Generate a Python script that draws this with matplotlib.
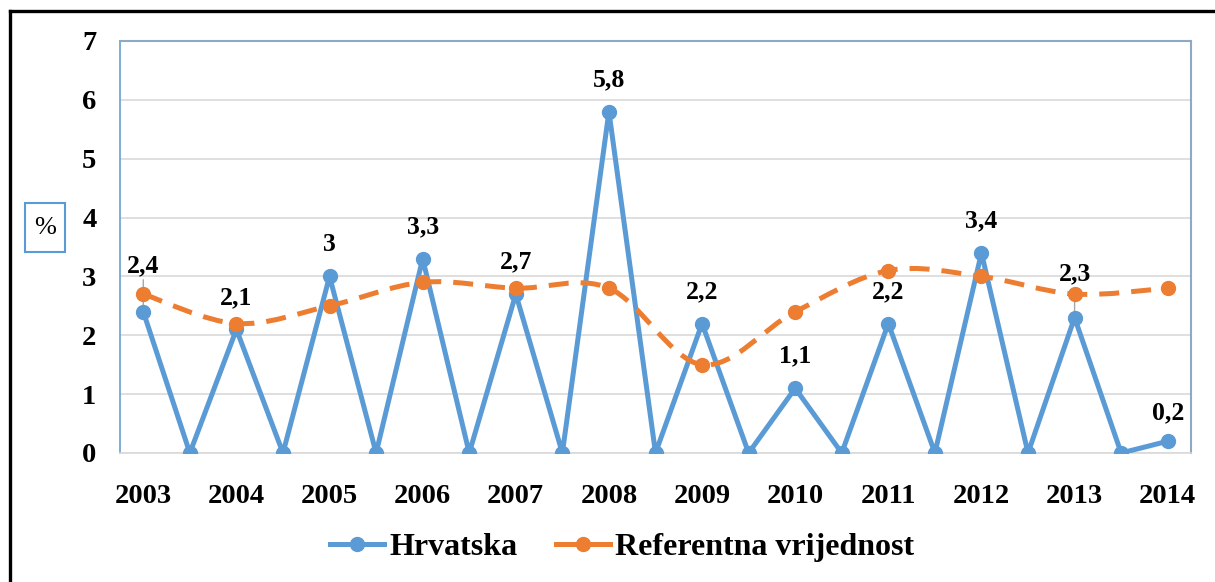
import matplotlib
matplotlib.use("Agg")
import matplotlib.pyplot as plt
from matplotlib.path import Path
from matplotlib.patches import PathPatch, Rectangle
from matplotlib.lines import Line2D

years = ["2003", "2004", "2005", "2006", "2007", "2008",
         "2009", "2010", "2011", "2012", "2013", "2014"]
# Hrvatska: value at each year, zero between years
hrvatska = [2.4, 0, 2.1, 0, 3.0, 0, 3.3, 0, 2.7, 0, 5.8, 0,
            2.2, 0, 1.1, 0, 2.2, 0, 3.4, 0, 2.3, 0, 0.2]
referentna = [2.7, 2.2, 2.5, 2.9, 2.8, 2.8, 1.5, 2.4, 3.1, 3.0, 2.7, 2.8]

blue = "#5B9BD5"
orange = "#ED7D31"
font = "Liberation Serif"

fig = plt.figure(figsize=(12.15, 5.82), dpi=100)
ax = fig.add_axes([120/1215, 1-453/582, (1191-120)/1215, (453-41)/582])

xb = list(range(len(hrvatska)))
xo = [2*i for i in range(len(referentna))]

ax.set_xlim(-0.5, len(hrvatska)-0.5)
ax.set_ylim(0, 7)
ax.set_yticks(range(8))
ax.yaxis.grid(True, color="#D9D9D9", lw=1.2)
ax.set_axisbelow(True)
ax.set_xticks(xo)
ax.set_xticklabels(years)
ax.tick_params(length=0)
ax.tick_params(axis="y", pad=17)
ax.tick_params(axis="x", pad=22)
for lab in ax.get_xticklabels() + ax.get_yticklabels():
    lab.set_fontfamily(font)
    lab.set_fontweight("bold")
    lab.set_fontsize(20.5)
for s in ["top", "right"]:
    ax.spines[s].set_color("#8EA9C8")
    ax.spines[s].set_linewidth(1.5)
ax.spines["left"].set_color("#6A9FD0")
ax.spines["left"].set_linewidth(1.2)
ax.spines["bottom"].set_color("#D9D9D9")
ax.spines["bottom"].set_linewidth(1.2)

ax.plot(xb, hrvatska, color=blue, lw=3.6, marker="o", ms=10, zorder=3)

# smoothed dashed line (Catmull-Rom as Bezier)
pts = list(zip(xo, referentna))
verts = [pts[0]]
codes = [Path.MOVETO]
for i in range(len(pts)-1):
    p0 = pts[i-1] if i > 0 else pts[i]
    p1 = pts[i]
    p2 = pts[i+1]
    p3 = pts[i+2] if i+2 < len(pts) else pts[i+1]
    c1 = (p1[0] + (p2[0]-p0[0])/6, p1[1] + (p2[1]-p0[1])/6)
    c2 = (p2[0] - (p3[0]-p1[0])/6, p2[1] - (p3[1]-p1[1])/6)
    verts += [c1, c2, p2]
    codes += [Path.CURVE4]*3
patch = PathPatch(Path(verts, codes), fill=False, edgecolor=orange, lw=3.6,
                  linestyle=(0, (4, 2.4)), capstyle="butt", zorder=4)
ax.add_patch(patch)
ax.plot(xo, referentna, ls="none", marker="o", ms=10, color=orange, zorder=5)

# data labels
offsets = {0: 46, 20: 44, 22: 28}
leader = {0, 20}
for i, v in enumerate(hrvatska):
    if v == 0:
        continue
    dy = offsets.get(i, 32)
    txt = f"{v:g}".replace(".", ",")
    ax.annotate(txt, (i, v), xytext=(0, dy), textcoords="offset pixels",
                ha="center", va="center", fontfamily=font, fontweight="bold",
                fontsize=18.5, zorder=6)
    if i in leader:
        ax.annotate("", (i, v), xytext=(0, dy-14), textcoords="offset pixels",
                    arrowprops=dict(arrowstyle="-", color="#A6A6A6", lw=1,
                                    shrinkA=0, shrinkB=0), zorder=2)

# % box
fig.add_artist(Rectangle((25/1215, 1-252/582), 40/1215, 49/582,
                         transform=fig.transFigure, fill=False,
                         edgecolor=blue, lw=1.5))
fig.text(45/1215, 1-228/582, "%", ha="center", va="center",
         fontfamily=font, fontsize=19)

# outer frame
fig.add_artist(Line2D([9.5/1215, 9.5/1215], [0, 1-11/582],
                      transform=fig.transFigure, color="black", lw=2.4))
fig.add_artist(Line2D([9.5/1215, 1], [1-11/582, 1-11/582],
                      transform=fig.transFigure, color="black", lw=2.4))

handles = [Line2D([], [], color=blue, lw=3.6, marker="o", ms=10),
           Line2D([], [], color=orange, lw=3.6, marker="o", ms=10)]
fig.legend(handles, ["Hrvatska", "Referentna vrijednost"], loc="center",
           bbox_to_anchor=(622/1215, 1-547/582), ncol=2, frameon=False,
           prop=dict(family=font, weight="bold", size=23),
           handlelength=1.7, handletextpad=0.15, columnspacing=1.2)

fig.savefig("out.png", dpi=100)
